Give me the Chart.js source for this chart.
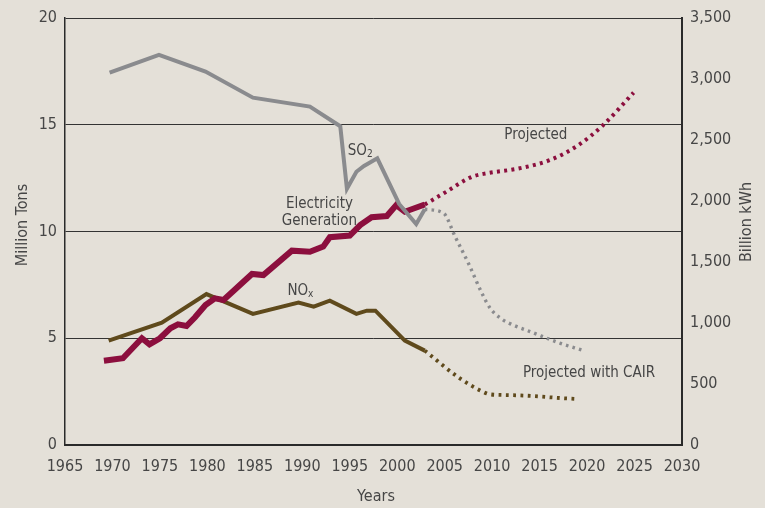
<!DOCTYPE html>
<html>
<head>
<meta charset="utf-8">
<script src="https://cdn.jsdelivr.net/npm/chart.js@4.4.1/dist/chart.umd.min.js"></script>
<style>
  html, body { margin: 0; padding: 0; background: #e4e0d8; }
  #wrap { width: 765px; height: 508px; }
</style>
</head>
<body>
<div id="wrap"><canvas id="emissionsChart"></canvas></div>
<script>
// SO2 from power plants, million tons
const so2Years = [1969.7, 1974.9, 1979.8, 1984.8, 1990.8, 1994.0, 1994.7, 1995.7, 1996.5, 1997.9, 2000.2, 2002.0, 2002.9];
const so2Tons = [17.44, 18.27, 17.49, 16.27, 15.85, 14.93, 12.0, 12.8, 13.07, 13.43, 11.29, 10.35, 11.04];
const so2CairYears = [2002.9, 2004.9, 2006.1, 2007.5, 2008.9, 2009.8, 2011.0, 2012.2, 2014.0, 2017.2, 2019.4];
const so2CairTons = [11.04, 10.85, 9.76, 8.51, 7.13, 6.4, 5.9, 5.62, 5.31, 4.76, 4.45];

// NOx, million tons
const noxYears = [1969.6, 1975.2, 1979.9, 1984.8, 1989.6, 1991.2, 1992.9, 1995.7, 1996.8, 1997.7, 2000.8, 2002.9];
const noxTons = [4.89, 5.73, 7.07, 6.14, 6.67, 6.48, 6.76, 6.14, 6.29, 6.29, 4.89, 4.42];
const noxCairYears = [2002.9, 2006.6, 2008.9, 2009.8, 2011.5, 2013.6, 2017.5, 2019.1];
const noxCairTons = [4.42, 3.12, 2.52, 2.37, 2.34, 2.31, 2.19, 2.15];

// electricity generation, billion kWh
const genYears = [1969.1, 1971.1, 1973.1, 1973.9, 1975.0, 1976.1, 1976.9, 1977.8, 1978.7, 1979.8, 1980.8, 1981.7, 1984.7, 1985.9, 1988.9, 1990.8, 1992.2, 1992.9, 1995.0, 1996.1, 1997.3, 1998.9, 1999.9, 2000.8, 2002.9];
const genKwh = [691, 711, 875, 825, 875, 957, 989, 975, 1047, 1148, 1202, 1189, 1402, 1393, 1593, 1584, 1626, 1703, 1717, 1803, 1867, 1877, 1967, 1912, 1971];
const genProjYears = [2002.9, 2004.9, 2007.9, 2009.4, 2012.9, 2016.1, 2019.1, 2021.7, 2024.9];
const genProjKwh = [1971, 2063, 2199, 2227, 2268, 2336, 2459, 2623, 2888];

const FONT = "'Liberation Sans Narrow', 'DejaVu Sans Condensed', 'Open Sans', sans-serif";
const TEXT = "#464646";

const BORDEAUX = "#8c0f3e";
const GREY = "#8a8b8e";
const BROWN = "#5f4a1c";

function pairs(xs, ys) {
  return xs.map((x, i) => ({ x: x, y: ys[i] }));
}

Chart.defaults.font.family = FONT;
Chart.defaults.color = TEXT;

// paints the beige page and the free-standing labels
const backdrop = {
  id: "backdrop",
  beforeDraw(chart) {
    const { ctx, width, height } = chart;
    ctx.save();
    ctx.fillStyle = "#e4e0d8";
    ctx.fillRect(0, 0, width, height);
    ctx.restore();
  },
  afterDraw(chart) {
    const { ctx } = chart;
    const x = chart.scales.x;
    const y = chart.scales.y;
    const px = (yr) => x.getPixelForValue(yr);
    const py = (v) => y.getPixelForValue(v);

    ctx.save();
    ctx.fillStyle = TEXT;
    ctx.textAlign = "center";
    ctx.textBaseline = "middle";
    ctx.font = "15px " + FONT;
    ctx.fillText("Electricity", px(1991.8), py(11.29));
    ctx.fillText("Generation", px(1991.8), py(10.49));
    ctx.fillText("Projected", px(2014.6), py(14.52));
    ctx.fillText("Projected with CAIR", px(2020.2), py(3.37));

    // formulas with a small subscript
    const subLabel = (main, sub, cx, cy) => {
      ctx.font = "15px " + FONT;
      const w1 = ctx.measureText(main).width;
      ctx.font = "10px " + FONT;
      const w2 = ctx.measureText(sub).width;
      const left = cx - (w1 + w2) / 2;
      ctx.textAlign = "left";
      ctx.font = "15px " + FONT;
      ctx.fillText(main, left, cy);
      ctx.font = "10px " + FONT;
      ctx.fillText(sub, left + w1, cy + 3);
      ctx.textAlign = "center";
    };
    subLabel("SO", "2", px(1996.1), py(13.77));
    subLabel("NO", "x", px(1989.8), py(7.21));

    // axis titles
    ctx.font = "16px " + FONT;
    ctx.fillText("Years", 376, 497);
    ctx.translate(23, 225);
    ctx.rotate(-Math.PI / 2);
    ctx.fillText("Million Tons", 0, 0);
    ctx.restore();

    ctx.save();
    ctx.fillStyle = TEXT;
    ctx.textAlign = "center";
    ctx.textBaseline = "middle";
    ctx.font = "16px " + FONT;
    ctx.translate(747, 222);
    ctx.rotate(-Math.PI / 2);
    ctx.fillText("Billion kWh", 0, 0);
    ctx.restore();
  },
};

const solid = (label, data, color, width, axis) => ({
  label: label,
  data: data,
  yAxisID: axis,
  borderColor: color,
  backgroundColor: color,
  borderWidth: width,
  pointRadius: 0,
  tension: 0,
  fill: false,
});

const dotted = (label, data, color, width, axis, dash) => ({
  label: label,
  data: data,
  yAxisID: axis,
  borderColor: color,
  backgroundColor: color,
  borderWidth: width,
  borderDash: dash,
  pointRadius: 0,
  cubicInterpolationMode: "monotone",
  fill: false,
});

const emissionsData = {
  datasets: [
    solid("SO2", pairs(so2Years, so2Tons), GREY, 4, "y"),
    dotted("SO2 projected with CAIR", pairs(so2CairYears, so2CairTons), GREY, 3.4, "y", [2.6, 4.2]),
    solid("Electricity Generation", pairs(genYears, genKwh), BORDEAUX, 6, "y2"),
    dotted("Electricity projected", pairs(genProjYears, genProjKwh), BORDEAUX, 4, "y2", [3, 4.3]),
    solid("NOx", pairs(noxYears, noxTons), BROWN, 4, "y"),
    dotted("NOx projected with CAIR", pairs(noxCairYears, noxCairTons), BROWN, 3.8, "y", [2.8, 4.5]),
  ],
};

const emissionsConfig = {
  type: "line",
  data: emissionsData,
  plugins: [backdrop],
  options: {
    responsive: true,
    maintainAspectRatio: false,
    animation: false,
    layout: { padding: { top: 18, left: 0, right: 0, bottom: 0 } },
    plugins: {
      legend: { display: false },
      tooltip: { enabled: false },
    },
    scales: {
      x: {
        type: "linear",
        min: 1965,
        max: 2030,
        afterFit(scale) { scale.height = 63; },
        grid: { display: false, drawTicks: false },
        border: { display: true, color: "#2a2a2a", width: 2 },
        ticks: {
          stepSize: 5,
          padding: 12,
          font: { size: 16 },
          color: TEXT,
          maxRotation: 0,
          callback: (value) => String(value),
        },
      },
      y: {
        position: "left",
        min: 0,
        max: 20,
        afterFit(scale) { scale.width = 65; },
        grid: { color: "#333333", lineWidth: 1, drawTicks: false },
        border: { display: true, color: "#2a2a2a", width: 1.5 },
        ticks: { stepSize: 5, padding: 8, font: { size: 16 }, color: TEXT },
      },
      y2: {
        position: "right",
        min: 0,
        max: 3500,
        afterFit(scale) { scale.width = 83; },
        grid: { display: false, drawTicks: false },
        border: { display: true, color: "#2a2a2a", width: 2 },
        ticks: { stepSize: 500, padding: 8, font: { size: 16 }, color: TEXT },
      },
    },
  },
};

const emissionsChart = new Chart(
  document.getElementById("emissionsChart"),
  emissionsConfig
);
console.log(emissionsChart);
</script>
</body>
</html>
